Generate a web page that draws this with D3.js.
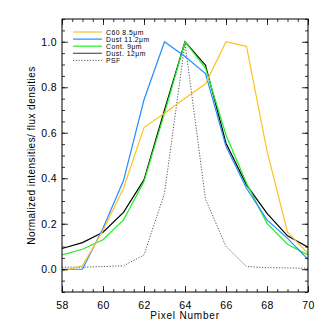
<!DOCTYPE html>
<html>
<head>
<meta charset="utf-8">
<script src="https://cdn.jsdelivr.net/npm/d3@7"></script>
<style>
  body { margin: 0; background: #fff; }
  svg { font-family: "Liberation Sans", Arial, sans-serif; }
</style>
</head>
<body>
<svg width="327" height="331"></svg>
<script>
// pixel numbers along the cut
var pixels = [58, 59, 60, 61, 62, 63, 64, 65, 66, 67, 68, 69, 70];

var c60 =    [-0.007, 0.016, 0.17, 0.356, 0.623, 0.686, 0.752, 0.815, 1.0, 0.98, 0.52, 0.163, 0.07];
var dust11 = [0.0, 0.0, 0.18, 0.39, 0.745, 1.0, 0.935, 0.86, 0.54, 0.356, 0.217, 0.136, 0.044];
var cont9 =  [0.063, 0.088, 0.13, 0.217, 0.386, 0.686, 1.0, 0.884, 0.59, 0.378, 0.202, 0.11, 0.063];
var dust12 = [0.091, 0.117, 0.163, 0.25, 0.393, 0.70, 1.0, 0.897, 0.554, 0.371, 0.246, 0.147, 0.097];
var psf =    [0.009, 0.009, 0.012, 0.015, 0.063, 0.334, 0.994, 0.308, 0.10, 0.012, 0.007, 0.006, 0.004];

var xTicks = [58, 60, 62, 64, 66, 68, 70];
var yTicks = [0.0, 0.2, 0.4, 0.6, 0.8, 1.0];

var series = [
  {name: "C60 8.5\u03bcm", values: c60, color: "#ffc125", legendColor: "#ffc125", dash: null},
  {name: "Dust 11.2\u03bcm", values: dust11, color: "#1e8fff", legendColor: "#1e8fff", dash: null},
  {name: "Cont. 9\u03bcm", values: cont9, color: "#22ee22", legendColor: "#22ee22", dash: null},
  {name: "Dust. 12\u03bcm", values: dust12, color: "#000", legendColor: "#555", dash: null},
  {name: "PSF", values: psf, color: "#555", legendColor: "#555", dash: "1.2,1.6"}
];

var svg = d3.select("svg"),
    x0 = 62, x1 = 308, y0 = 19, y1 = 292;

var x = d3.scaleLinear().domain([58, 70]).range([x0, x1]);
var y = d3.scaleLinear().domain([-0.1, 1.1]).range([y1, y0]);

var plot = svg.append("g");

var line = d3.line()
    .x(function(d, i) { return x(pixels[i]); })
    .y(function(d) { return y(d); });

// clip lines to the frame
svg.append("clipPath").attr("id", "clip")
  .append("rect").attr("x", x0).attr("y", y0).attr("width", x1 - x0).attr("height", y1 - y0);

series.slice().reverse().forEach(function(s) {
  plot.append("path")
      .datum(s.values)
      .attr("clip-path", "url(#clip)")
      .attr("fill", "none")
      .attr("stroke", s.color)
      .attr("stroke-width", s.dash ? 1 : 1.2)
      .attr("stroke-dasharray", s.dash)
      .attr("d", line);
});

// axes, ticks on all four sides pointing in
var xMinor = d3.range(58, 70.01, 0.5);
var yMinor = d3.range(-0.1, 1.1001, 0.05);

function addAxis(axis, pos) {
  svg.append("g").attr("transform", pos).call(axis);
}

addAxis(d3.axisBottom(x).tickValues(xMinor).tickSize(-3).tickFormat(""), "translate(0," + y1 + ")");
addAxis(d3.axisBottom(x).tickValues(xTicks).tickSize(-6).tickPadding(10).tickFormat(d3.format("d")), "translate(0," + y1 + ")");
addAxis(d3.axisTop(x).tickValues(xMinor).tickSize(-3).tickFormat(""), "translate(0," + y0 + ")");
addAxis(d3.axisTop(x).tickValues(xTicks).tickSize(-6).tickFormat(""), "translate(0," + y0 + ")");
addAxis(d3.axisLeft(y).tickValues(yMinor).tickSize(-3).tickFormat(""), "translate(" + x0 + ",0)");
addAxis(d3.axisLeft(y).tickValues(yTicks).tickSize(-6).tickPadding(5).tickFormat(d3.format(".1f")), "translate(" + x0 + ",0)");
addAxis(d3.axisRight(y).tickValues(yMinor).tickSize(-3).tickFormat(""), "translate(" + x1 + ",0)");
addAxis(d3.axisRight(y).tickValues(yTicks).tickSize(-6).tickFormat(""), "translate(" + x1 + ",0)");

svg.selectAll(".domain").remove();
svg.selectAll(".tick line").attr("stroke", "#000").attr("stroke-width", 0.8);
svg.selectAll(".tick text").attr("font-size", 10.5).attr("fill", "#000")
    .style("font-family", "Liberation Sans, Arial, sans-serif").style("letter-spacing", "0.4px");

svg.append("rect")
    .attr("x", x0).attr("y", y0)
    .attr("width", x1 - x0).attr("height", y1 - y0)
    .attr("fill", "none").attr("stroke", "#000").attr("stroke-width", 1);

svg.append("text")
    .attr("x", (x0 + x1) / 2).attr("y", 319)
    .attr("text-anchor", "middle")
    .attr("font-size", 10)
    .style("letter-spacing", "0.8px")
    .text("Pixel Number");

svg.append("text")
    .attr("transform", "translate(35," + ((y0 + y1) / 2) + ") rotate(-90)")
    .attr("text-anchor", "middle")
    .attr("font-size", 10)
    .style("letter-spacing", "0.45px")
    .text("Normalized intensities/ flux densities");

// legend
var legend = svg.append("g");
series.forEach(function(s, i) {
  var ly = 32 + i * 7.1;
  legend.append("line")
      .attr("x1", 73).attr("x2", 102)
      .attr("y1", ly).attr("y2", ly)
      .attr("stroke", s.legendColor)
      .attr("stroke-width", s.dash ? 1 : 1.2)
      .attr("stroke-dasharray", s.dash);
  legend.append("text")
      .attr("x", 106).attr("y", ly + 2.5)
      .attr("font-size", 6.8)
      .style("letter-spacing", "0.5px")
      .text(s.name);
});
</script>
</body>
</html>
